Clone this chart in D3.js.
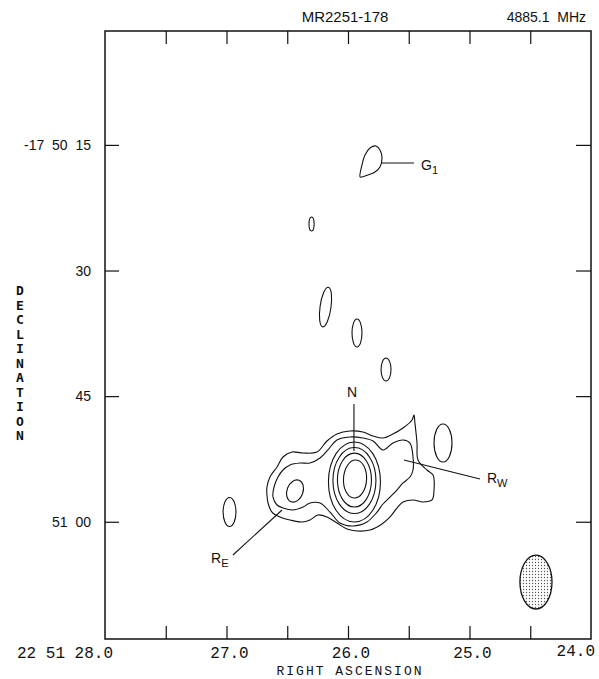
<!DOCTYPE html>
<html>
<head>
<meta charset="utf-8">
<script src="https://cdn.jsdelivr.net/npm/d3@7"></script>
<style>
  body { margin: 0; background: #fff; }
  svg { display: block; }
</style>
</head>
<body>
<div id="plot"></div>
<script>
// MR2251-178 at 4885.1 MHz: contour map
// RA in seconds of 22h51m, Dec in arcsec south of -17 50 00
const raDomain = [28.0, 24.0];
const decDomain = [1.4, 74.0];

const raTicks = [27.5, 27.0, 26.5, 26.0, 25.5, 25.0, 24.5];
const raLabels = [[28.0, "22 51 28.0"], [27.0, "27.0"], [26.0, "26.0"], [25.0, "25.0"], [24.0, "24.0"]];
const decTicks = [15, 30, 45, 60];
const decLabels = ["-17 50 15", "30", "45", "51 00"];

// lowest contour, round the whole source
const envelope = [
  [26.667, 55.85], [26.642, 54.66], [26.584, 53.46], [26.535, 52.27], [26.461, 51.67],
  [26.370, 51.79], [26.255, 51.67], [26.173, 50.36], [26.091, 49.52], [25.984, 49.16],
  [25.877, 49.28], [25.794, 49.76], [25.712, 50.00], [25.630, 49.52], [25.547, 48.81],
  [25.473, 47.85], [25.457, 47.25], [25.449, 48.21], [25.432, 50.60], [25.424, 52.63],
  [25.350, 53.82], [25.300, 54.42], [25.292, 56.21], [25.309, 57.40], [25.383, 57.64],
  [25.465, 57.40], [25.547, 57.64], [25.597, 58.36], [25.654, 59.43], [25.720, 60.27],
  [25.819, 60.99], [25.926, 61.11], [26.008, 60.87], [26.091, 60.15], [26.173, 59.43],
  [26.247, 59.19], [26.313, 59.79], [26.379, 60.03], [26.477, 59.79], [26.560, 59.43],
  [26.626, 58.84], [26.658, 57.76], [26.667, 56.81]
];

// second contour, RE + nucleus + RW
const second = [
  [26.617, 57.05], [26.609, 55.85], [26.576, 54.66], [26.535, 53.82], [26.477, 53.22],
  [26.395, 52.99], [26.313, 52.99], [26.230, 52.39], [26.165, 51.43], [26.091, 50.24],
  [25.984, 49.88], [25.877, 50.00], [25.794, 50.36], [25.712, 51.43], [25.630, 50.60],
  [25.547, 50.24], [25.490, 50.60], [25.465, 52.27], [25.465, 53.82], [25.490, 54.66],
  [25.547, 55.37], [25.597, 56.21], [25.654, 57.05], [25.712, 57.88], [25.761, 58.84],
  [25.844, 60.03], [25.959, 60.51], [26.066, 60.15], [26.148, 58.84], [26.230, 57.76],
  [26.313, 57.76], [26.370, 58.24], [26.453, 58.60], [26.535, 58.36], [26.584, 58.00]
];

// the G1 knot
const g1 = [
  [25.901, 18.83], [25.885, 17.40], [25.860, 16.21], [25.819, 15.37], [25.770, 15.13],
  [25.737, 15.61], [25.720, 16.57], [25.737, 17.64], [25.778, 18.24], [25.835, 18.60],
  [25.885, 18.83]
];

// closed oval contours: ra, dec, half width (s), half height ("), tilt (deg)
const ovals = [
  [25.947, 55.25, 0.214, 4.78, 0],
  [25.947, 55.08, 0.177, 3.94, 0],
  [25.947, 55.02, 0.140, 3.22, 0],
  [25.942, 54.90, 0.095, 2.27, 3],
  [26.436, 56.33, 0.066, 1.37, 20],
  [26.975, 58.84, 0.053, 1.73, 0],
  [25.218, 50.60, 0.074, 2.27, 0],
  [26.300, 24.45, 0.021, 0.84, 0],
  [26.185, 34.36, 0.045, 2.39, 8],
  [25.926, 37.46, 0.041, 1.67, 0],
  [25.687, 41.82, 0.041, 1.37, 0]
];

// restoring beam
const beam = [24.453, 67.20, 0.132, 3.22];

// labels: text, subscript, leader from, leader to, text anchor point
const notes = [
  ["G", "1", [25.728, 17.16], [25.457, 17.16], [25.399, 18.0]],
  ["N", "", [25.951, 45.94], [25.951, 51.55], [25.967, 45.10]],
  ["R", "E", [26.947, 63.97], [26.543, 58.60], [27.127, 64.9]],
  ["R", "W", [25.539, 52.63], [24.914, 54.90], [24.856, 55.4]]
];

const W = 599, H = 679;
const svg = d3.select("#plot").append("svg")
  .attr("width", W)
  .attr("height", H);

const x = d3.scaleLinear().domain(raDomain).range([105, 591]);
const y = d3.scaleLinear().domain(decDomain).range([31, 639]);

const defs = svg.append("defs");
const pat = defs.append("pattern")
  .attr("id", "dots")
  .attr("width", 3).attr("height", 3)
  .attr("patternUnits", "userSpaceOnUse");
pat.append("rect").attr("width", 3).attr("height", 3).attr("fill", "#fff");
pat.append("circle").attr("cx", 1.5).attr("cy", 1.5).attr("r", 0.65).attr("fill", "#555");

// ticks, drawn inward
svg.append("g").attr("transform", "translate(0,31)")
  .call(d3.axisBottom(x).tickValues(raTicks).tickSize(13).tickSizeOuter(0).tickFormat(""));
svg.append("g").attr("transform", "translate(0,639)")
  .call(d3.axisTop(x).tickValues(raTicks).tickSize(13).tickSizeOuter(0).tickFormat(""));
svg.append("g").attr("transform", "translate(105,0)")
  .call(d3.axisRight(y).tickValues(decTicks).tickSize(14).tickSizeOuter(0).tickFormat(""));
svg.append("g").attr("transform", "translate(591,0)")
  .call(d3.axisLeft(y).tickValues(decTicks).tickSize(15).tickSizeOuter(0).tickFormat(""));
svg.selectAll(".domain").remove();
svg.selectAll(".tick line").attr("stroke", "#111").attr("stroke-width", 1.2);

// frame
svg.append("rect")
  .attr("x", x(raDomain[0])).attr("y", y(decDomain[0]))
  .attr("width", x(raDomain[1]) - x(raDomain[0]))
  .attr("height", y(decDomain[1]) - y(decDomain[0]))
  .attr("fill", "none").attr("stroke", "#111").attr("stroke-width", 1.5);

// contours
const line = d3.line()
  .x(d => x(d[0])).y(d => y(d[1]))
  .curve(d3.curveCatmullRomClosed.alpha(0.5));

const cont = svg.append("g")
  .attr("fill", "none").attr("stroke", "#111").attr("stroke-width", 1.1);

[envelope, second, g1].forEach(c => cont.append("path").attr("d", line(c)));

cont.selectAll("ellipse")
  .data(ovals)
  .enter()
  .append("ellipse")
  .attr("cx", d => x(d[0]))
  .attr("cy", d => y(d[1]))
  .attr("rx", d => Math.abs(x(d[0] + d[2]) - x(d[0])))
  .attr("ry", d => Math.abs(y(d[1] + d[3]) - y(d[1])))
  .attr("transform", d => `rotate(${d[4]},${x(d[0])},${y(d[1])})`);

svg.append("ellipse")
  .attr("cx", x(beam[0])).attr("cy", y(beam[1]))
  .attr("rx", Math.abs(x(beam[0] + beam[2]) - x(beam[0])))
  .attr("ry", Math.abs(y(beam[1] + beam[3]) - y(beam[1])))
  .attr("fill", "url(#dots)")
  .attr("stroke", "#111").attr("stroke-width", 1.3);

// annotations
const ann = svg.append("g");
notes.forEach(n => {
  ann.append("line")
    .attr("x1", x(n[2][0])).attr("y1", y(n[2][1]))
    .attr("x2", x(n[3][0])).attr("y2", y(n[3][1]))
    .attr("stroke", "#111").attr("stroke-width", 1.1);
  const t = ann.append("text")
    .attr("x", x(n[4][0])).attr("y", y(n[4][1]))
    .attr("text-anchor", n[1] ? "start" : "middle")
    .style("font-family", "'Liberation Sans', Arial, sans-serif")
    .style("font-size", "14px")
    .attr("fill", "#111")
    .text(n[0]);
  if (n[1]) {
    t.append("tspan").attr("dy", 4).style("font-size", "11px").text(n[1]);
  }
});

// header
svg.append("text")
  .attr("x", 345).attr("y", 22)
  .attr("text-anchor", "middle")
  .style("font-family", "'Liberation Sans', Arial, sans-serif")
  .style("font-size", "15px")
  .attr("fill", "#111")
  .text("MR2251-178");
svg.append("text")
  .attr("x", 586).attr("y", 22)
  .attr("text-anchor", "end")
  .style("font-family", "'Liberation Sans', Arial, sans-serif")
  .style("font-size", "14px")
  .attr("fill", "#111")
  .attr("xml:space", "preserve")
  .text("4885.1  MHz");

// dec labels
svg.selectAll(".declab")
  .data(decTicks)
  .enter()
  .append("text")
  .attr("class", "declab")
  .attr("x", 91)
  .attr("y", d => y(d) + 5)
  .attr("text-anchor", "end")
  .style("font-family", "'Liberation Sans', Arial, sans-serif")
  .style("font-size", "14px")
  .attr("fill", "#111")
  .text((d, i) => decLabels[i].replace(/ /g, "\u00a0\u00a0"));

// vertical DECLINATION
svg.append("g").selectAll("text")
  .data("DECLINATION".split(""))
  .enter()
  .append("text")
  .attr("x", 20)
  .attr("y", (d, i) => 295 + i * 14.5)
  .attr("text-anchor", "middle")
  .style("font-family", "'DejaVu Sans Mono', monospace")
  .style("font-weight", "bold")
  .style("font-size", "13px")
  .attr("fill", "#111")
  .text(d => d);

// RA labels
svg.selectAll(".ralab")
  .data(raLabels)
  .enter()
  .append("text")
  .attr("class", "ralab")
  .attr("x", (d, i) => i === 0 ? x(d[0]) + 8 : (i === raLabels.length - 1 ? x(d[0]) + 4 : x(d[0]) + 3))
  .attr("y", (d, i) => i === raLabels.length - 1 ? 656 : 658)
  .attr("text-anchor", (d, i) => i === 0 || i === raLabels.length - 1 ? "end" : "middle")
  .style("font-family", "'Liberation Mono', 'DejaVu Sans Mono', monospace")
  .style("font-size", "16px")
  .attr("fill", "#111")
  .text(d => d[1]);

svg.append("text")
  .attr("x", 350).attr("y", 675)
  .attr("text-anchor", "middle")
  .style("font-family", "'Liberation Mono', 'DejaVu Sans Mono', monospace")
  .style("font-size", "13px")
  .style("letter-spacing", "2px")
  .attr("fill", "#111")
  .text("RIGHT ASCENSION");
</script>
</body>
</html>
